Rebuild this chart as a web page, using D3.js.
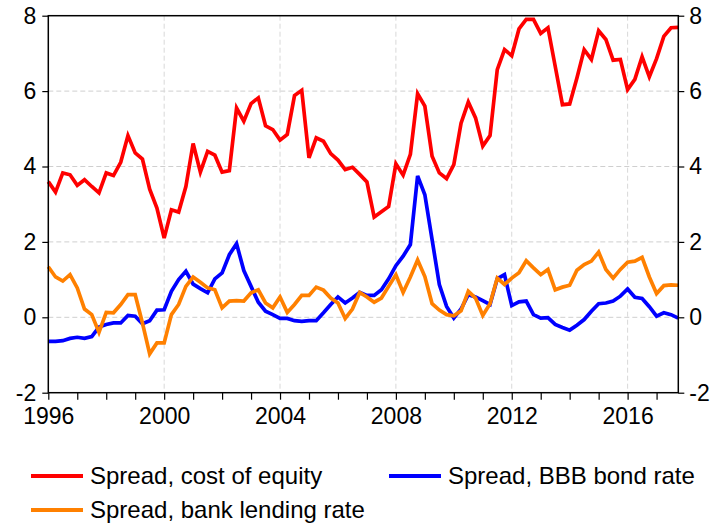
<!DOCTYPE html>
<html>
<head>
<meta charset="utf-8">
<script src="https://cdn.jsdelivr.net/npm/d3@7"></script>
<style>
  html, body { margin: 0; padding: 0; background: #fff; }
  #chart { width: 714px; height: 525px; }
  text { font-family: "Liberation Sans", Arial, sans-serif; fill: #000; }
</style>
</head>
<body>
<div id="chart"></div>
<script>
// Quarterly spreads, 1996Q1 - 2017Q4
const firstYear = 1996;
const lastYear = 2017.75;

const spreadEquity = [
    3.60, 3.32, 3.83, 3.78, 3.50, 3.65, 3.47, 3.30, 3.83, 3.76, 4.11, 4.82,
    4.36, 4.20, 3.40, 2.90, 2.10, 2.85, 2.79, 3.47, 4.61, 3.85, 4.40, 4.30,
    3.85, 3.89, 5.55, 5.20, 5.67, 5.82, 5.08, 4.98, 4.70, 4.85, 5.88, 6.02,
    4.23, 4.76, 4.67, 4.34, 4.17, 3.92, 3.98, 3.79, 3.59, 2.66, 2.80, 2.94,
    4.07, 3.77, 4.32, 5.93, 5.60, 4.27, 3.83, 3.68, 4.05, 5.15, 5.71, 5.29,
    4.54, 4.82, 6.57, 7.10, 6.94, 7.65, 7.90, 7.90, 7.53, 7.68, 6.66, 5.64,
    5.66, 6.35, 7.10, 6.84, 7.60, 7.37, 6.82, 6.84, 6.04, 6.31, 6.91, 6.38,
    6.86, 7.45, 7.68, 7.69
];

const spreadBBB = [
    -0.64, -0.64, -0.62, -0.56, -0.53, -0.56, -0.51, -0.26, -0.19, -0.15, -0.15, 0.05,
    0.03, -0.17, -0.09, 0.19, 0.20, 0.69, 1.00, 1.22, 0.88, 0.76, 0.65, 1.02,
    1.18, 1.66, 1.95, 1.24, 0.82, 0.40, 0.16, 0.07, -0.03, -0.03, -0.09, -0.11,
    -0.09, -0.09, 0.12, 0.34, 0.54, 0.38, 0.51, 0.66, 0.58, 0.58, 0.73, 1.02,
    1.37, 1.62, 1.93, 3.75, 3.25, 2.06, 0.87, 0.29, -0.02, 0.22, 0.60, 0.54,
    0.44, 0.34, 1.02, 1.13, 0.31, 0.41, 0.43, 0.07, -0.02, -0.01, -0.19, -0.27,
    -0.34, -0.21, -0.06, 0.16, 0.36, 0.38, 0.43, 0.56, 0.75, 0.53, 0.50, 0.28,
    0.03, 0.12, 0.07, -0.02
];

const spreadLending = [
    1.34, 1.07, 0.96, 1.13, 0.78, 0.22, 0.07, -0.40, 0.13, 0.12, 0.34, 0.60,
    0.60, -0.15, -0.97, -0.68, -0.68, 0.07, 0.34, 0.82, 1.07, 0.93, 0.78, 0.73,
    0.25, 0.43, 0.44, 0.43, 0.65, 0.73, 0.38, 0.25, 0.54, 0.13, 0.34, 0.58,
    0.58, 0.80, 0.72, 0.51, 0.38, -0.03, 0.22, 0.66, 0.54, 0.40, 0.51, 0.82,
    1.13, 0.66, 1.07, 1.52, 1.08, 0.36, 0.19, 0.07, 0.04, 0.17, 0.69, 0.51,
    0.05, 0.36, 1.04, 0.87, 1.04, 1.18, 1.50, 1.31, 1.13, 1.27, 0.73, 0.80,
    0.85, 1.25, 1.40, 1.49, 1.73, 1.27, 1.04, 1.27, 1.46, 1.49, 1.59, 1.07,
    0.63, 0.84, 0.86, 0.85
];

const yTicks = [-2, 0, 2, 4, 6, 8];
const xLabelYears = [1996, 2000, 2004, 2008, 2012, 2016];

const series = [
    { label: 'Spread, cost of equity', values: spreadEquity, color: '#ff0000' },
    { label: 'Spread, BBB bond rate', values: spreadBBB, color: '#0000ff' },
    { label: 'Spread, bank lending rate', values: spreadLending, color: '#ff8000' }
];

function drawSpreadChart() {
    const container = d3.select('#chart');
    const fullW = 714, fullH = 525;
    const margin = { top: 15.7, left: 48.3, right: 35.7, bottom: 132.3 };
    const width = fullW - margin.left - margin.right;
    const height = fullH - margin.top - margin.bottom;

    const svg = container.append('svg')
        .attr('width', fullW)
        .attr('height', fullH);

    const g = svg.append('g')
        .attr('transform', `translate(${margin.left},${margin.top})`);

    const x = d3.scaleLinear().domain([firstYear, lastYear]).range([0, width]);
    const y = d3.scaleLinear().domain([-2, 8]).range([height, 0]);
    const dateOf = i => firstYear + i * 0.25;

    // dashed grid
    g.append('g')
        .selectAll('line')
        .data(yTicks.filter(v => v > -2 && v < 8))
        .join('line')
        .attr('x1', 0).attr('x2', width)
        .attr('y1', d => y(d)).attr('y2', d => y(d))
        .attr('stroke', '#cfcfcf')
        .attr('stroke-width', 1)
        .attr('stroke-dasharray', '5,3');

    g.append('g')
        .selectAll('line')
        .data(xLabelYears.filter(v => v > firstYear))
        .join('line')
        .attr('x1', d => x(d)).attr('x2', d => x(d))
        .attr('y1', 0).attr('y2', height)
        .attr('stroke', '#d8d8d8')
        .attr('stroke-width', 1)
        .attr('stroke-dasharray', '5,3');

    // lines
    const line = d3.line()
        .x((d, i) => x(dateOf(i)))
        .y(d => y(d));

    series.forEach(s => {
        g.append('path')
            .datum(s.values)
            .attr('fill', 'none')
            .attr('stroke', s.color)
            .attr('stroke-width', 3.7)
            .attr('stroke-linejoin', 'miter')
            .attr('d', line);
    });

    // axes (plain hyphen for negatives, like the original)
    const yearTicks = d3.range(firstYear, 2018);
    const bottom = g.append('g')
        .attr('transform', `translate(0,${height})`)
        .call(d3.axisBottom(x)
            .tickValues(yearTicks)
            .tickSize(7)
            .tickPadding(8)
            .tickFormat(d => xLabelYears.includes(d) ? String(d) : ''));

    const left = g.append('g')
        .call(d3.axisLeft(y).tickValues(yTicks).tickSize(6).tickPadding(6)
            .tickFormat(d => String(d)));

    const right = g.append('g')
        .attr('transform', `translate(${width},0)`)
        .call(d3.axisRight(y).tickValues(yTicks).tickSize(6).tickPadding(5)
            .tickFormat(d => String(d)));

    [bottom, left, right].forEach(ax => {
        ax.select('.domain').remove();
        ax.selectAll('.tick line').attr('stroke', '#000').attr('stroke-width', 1.2);
        ax.selectAll('.tick text')
            .style('font-family', '"Liberation Sans", Arial, sans-serif')
            .style('font-size', '23px')
            .attr('fill', '#000');
    });

    // frame
    g.append('rect')
        .attr('width', width)
        .attr('height', height)
        .attr('fill', 'none')
        .attr('stroke', '#000')
        .attr('stroke-width', 1.5);

    // legend
    const legendItems = [
        { s: series[0], x: 31, y: 476 },
        { s: series[1], x: 389, y: 476 },
        { s: series[2], x: 31, y: 510 }
    ];
    const legend = svg.append('g');
    legendItems.forEach(it => {
        legend.append('line')
            .attr('x1', it.x).attr('x2', it.x + 52)
            .attr('y1', it.y).attr('y2', it.y)
            .attr('stroke', it.s.color)
            .attr('stroke-width', 4);
        legend.append('text')
            .attr('x', it.x + 59)
            .attr('y', it.y)
            .attr('dy', '0.35em')
            .style('font-size', '24px')
            .text(it.s.label);
    });
}

drawSpreadChart();
</script>
</body>
</html>
